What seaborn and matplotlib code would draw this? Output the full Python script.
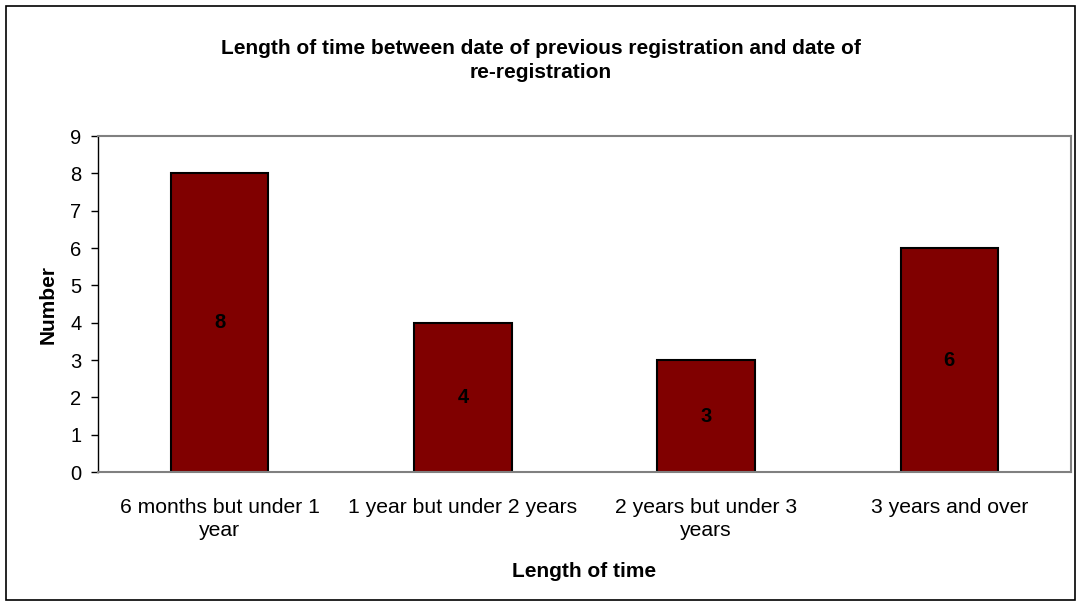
import matplotlib
matplotlib.use("Agg")
import matplotlib.pyplot as plt
import seaborn as sns
import pandas as pd
from matplotlib.patches import Rectangle

categories = ["6 months but under 1\nyear", "1 year but under 2 years",
              "2 years but under 3\nyears", "3 years and over"]
values = [8, 4, 3, 6]

sns.set_theme(style="white")
plt.rcParams['font.family'] = ['Liberation Sans', 'DejaVu Sans']
plt.rcParams['text.color'] = 'black'
plt.rcParams['axes.labelcolor'] = 'black'
plt.rcParams['xtick.color'] = 'black'
plt.rcParams['ytick.color'] = 'black'

df = pd.DataFrame({"cat": categories, "val": values})

fig = plt.figure(figsize=(10.81, 6.07), dpi=100)
W, H = 1081, 607
ax = fig.add_axes([98 / W, 1 - 472 / H, (1071 - 98) / W, (472 - 136) / H])

sns.barplot(data=df, x="cat", y="val", color="#800000", saturation=1,
            width=0.40, edgecolor="black", linewidth=1.5, ax=ax)

for i, v in enumerate(values):
    ax.text(i, v / 2, str(v), ha="center", va="center", fontsize=14.5,
            fontweight="bold", color="black")

ax.set_xlim(-0.5, 3.5)
ax.set_ylim(0, 9)
ax.set_yticks(range(10))
ax.set_xticks([-0.5, 0.5, 1.5, 2.5, 3.5], minor=True)
ax.tick_params(axis="x", which="major", length=0, pad=19, labelsize=15.2, colors="black")
ax.tick_params(axis="x", which="minor", length=5, width=1, color="black", direction="out")
ax.tick_params(axis="y", length=5, width=1, color="black", direction="out",
               left=True, labelsize=14.5, pad=7)
ax.set_xticklabels(categories, linespacing=1.25)

for s in ["top", "right", "bottom"]:
    ax.spines[s].set_color("#808080")
    ax.spines[s].set_linewidth(1.5)
ax.spines["left"].set_color("black")
ax.spines["left"].set_linewidth(1)

ax.set_xlabel("Length of time", fontsize=15, fontweight="bold", labelpad=16)
ax.set_ylabel("Number", fontsize=15, fontweight="bold", labelpad=9)

fig.text(541 / W, 1 - 48 / H, "Length of time between date of previous registration and date of",
         ha="center", va="center", fontsize=15, fontweight="bold")
fig.text(541 / W, 1 - 72 / H, "re-registration",
         ha="center", va="center", fontsize=15, fontweight="bold")

fig.patches.append(Rectangle((6 / W, 7 / H), (1075 - 6) / W, (600 - 6) / H,
                             transform=fig.transFigure, fill=False,
                             edgecolor="black", linewidth=1.2))

fig.savefig("out.png", dpi=100)
